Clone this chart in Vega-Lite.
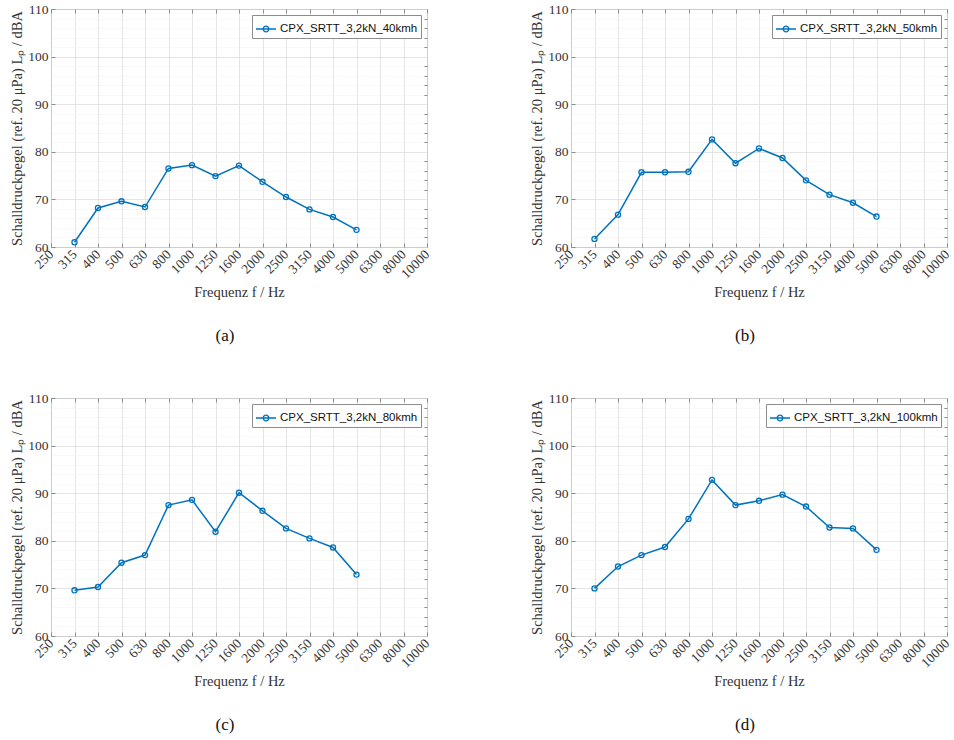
{
  "$schema": "https://vega.github.io/schema/vega-lite/v6.json",
  "background": "white",
  "padding": {"left": 9, "top": 1, "right": 4, "bottom": 4},
  "config": {
    "view": {"stroke": "#8c8c8c", "strokeWidth": 1},
    "font": "Liberation Serif",
    "axis": {
      "labelFont": "Liberation Serif",
      "labelFontSize": 13.5,
      "labelColor": "#333333",
      "titleFont": "Liberation Serif",
      "titleFontSize": 14.5,
      "titleFontWeight": "normal",
      "titleColor": "#333333",
      "domain": false,
      "tickColor": "#8c8c8c",
      "gridColor": "#dedede",
      "gridWidth": 0.8
    },
    "legend": {
      "orient": "top-right",
      "offset": 6,
      "padding": 3,
      "strokeColor": "#8c8c8c",
      "fillColor": "white",
      "labelFont": "Liberation Sans",
      "labelFontSize": 11.5,
      "labelColor": "#111111",
      "symbolType": "M-1,0L1,0M-0.28,0A0.28,0.28,0,1,1,0.28,0A0.28,0.28,0,1,1,-0.28,0",
      "symbolSize": 400,
      "symbolStrokeWidth": 1.3,
      "symbolFillColor": "transparent",
      "labelOffset": 3,
      "title": null
    },
    "title": {"font": "Liberation Serif", "fontSize": 17, "fontWeight": "normal", "color": "#111111"}
  },
  "data": {"values": [
    {"s": "CPX_SRTT_3,2kN_40kmh", "f": "315", "L": 61.0},
    {"s": "CPX_SRTT_3,2kN_40kmh", "f": "400", "L": 68.2},
    {"s": "CPX_SRTT_3,2kN_40kmh", "f": "500", "L": 69.6},
    {"s": "CPX_SRTT_3,2kN_40kmh", "f": "630", "L": 68.4},
    {"s": "CPX_SRTT_3,2kN_40kmh", "f": "800", "L": 76.5},
    {"s": "CPX_SRTT_3,2kN_40kmh", "f": "1000", "L": 77.2},
    {"s": "CPX_SRTT_3,2kN_40kmh", "f": "1250", "L": 74.9},
    {"s": "CPX_SRTT_3,2kN_40kmh", "f": "1600", "L": 77.1},
    {"s": "CPX_SRTT_3,2kN_40kmh", "f": "2000", "L": 73.7},
    {"s": "CPX_SRTT_3,2kN_40kmh", "f": "2500", "L": 70.5},
    {"s": "CPX_SRTT_3,2kN_40kmh", "f": "3150", "L": 67.9},
    {"s": "CPX_SRTT_3,2kN_40kmh", "f": "4000", "L": 66.3},
    {"s": "CPX_SRTT_3,2kN_40kmh", "f": "5000", "L": 63.6},
    {"s": "CPX_SRTT_3,2kN_50kmh", "f": "315", "L": 61.7},
    {"s": "CPX_SRTT_3,2kN_50kmh", "f": "400", "L": 66.8},
    {"s": "CPX_SRTT_3,2kN_50kmh", "f": "500", "L": 75.7},
    {"s": "CPX_SRTT_3,2kN_50kmh", "f": "630", "L": 75.7},
    {"s": "CPX_SRTT_3,2kN_50kmh", "f": "800", "L": 75.8},
    {"s": "CPX_SRTT_3,2kN_50kmh", "f": "1000", "L": 82.6},
    {"s": "CPX_SRTT_3,2kN_50kmh", "f": "1250", "L": 77.6},
    {"s": "CPX_SRTT_3,2kN_50kmh", "f": "1600", "L": 80.7},
    {"s": "CPX_SRTT_3,2kN_50kmh", "f": "2000", "L": 78.7},
    {"s": "CPX_SRTT_3,2kN_50kmh", "f": "2500", "L": 74.0},
    {"s": "CPX_SRTT_3,2kN_50kmh", "f": "3150", "L": 71.0},
    {"s": "CPX_SRTT_3,2kN_50kmh", "f": "4000", "L": 69.3},
    {"s": "CPX_SRTT_3,2kN_50kmh", "f": "5000", "L": 66.4},
    {"s": "CPX_SRTT_3,2kN_80kmh", "f": "315", "L": 69.6},
    {"s": "CPX_SRTT_3,2kN_80kmh", "f": "400", "L": 70.3},
    {"s": "CPX_SRTT_3,2kN_80kmh", "f": "500", "L": 75.4},
    {"s": "CPX_SRTT_3,2kN_80kmh", "f": "630", "L": 77.0},
    {"s": "CPX_SRTT_3,2kN_80kmh", "f": "800", "L": 87.5},
    {"s": "CPX_SRTT_3,2kN_80kmh", "f": "1000", "L": 88.6},
    {"s": "CPX_SRTT_3,2kN_80kmh", "f": "1250", "L": 81.9},
    {"s": "CPX_SRTT_3,2kN_80kmh", "f": "1600", "L": 90.1},
    {"s": "CPX_SRTT_3,2kN_80kmh", "f": "2000", "L": 86.3},
    {"s": "CPX_SRTT_3,2kN_80kmh", "f": "2500", "L": 82.6},
    {"s": "CPX_SRTT_3,2kN_80kmh", "f": "3150", "L": 80.5},
    {"s": "CPX_SRTT_3,2kN_80kmh", "f": "4000", "L": 78.6},
    {"s": "CPX_SRTT_3,2kN_80kmh", "f": "5000", "L": 72.9},
    {"s": "CPX_SRTT_3,2kN_100kmh", "f": "315", "L": 70.0},
    {"s": "CPX_SRTT_3,2kN_100kmh", "f": "400", "L": 74.6},
    {"s": "CPX_SRTT_3,2kN_100kmh", "f": "500", "L": 77.0},
    {"s": "CPX_SRTT_3,2kN_100kmh", "f": "630", "L": 78.7},
    {"s": "CPX_SRTT_3,2kN_100kmh", "f": "800", "L": 84.6},
    {"s": "CPX_SRTT_3,2kN_100kmh", "f": "1000", "L": 92.8},
    {"s": "CPX_SRTT_3,2kN_100kmh", "f": "1250", "L": 87.5},
    {"s": "CPX_SRTT_3,2kN_100kmh", "f": "1600", "L": 88.4},
    {"s": "CPX_SRTT_3,2kN_100kmh", "f": "2000", "L": 89.7},
    {"s": "CPX_SRTT_3,2kN_100kmh", "f": "2500", "L": 87.2},
    {"s": "CPX_SRTT_3,2kN_100kmh", "f": "3150", "L": 82.8},
    {"s": "CPX_SRTT_3,2kN_100kmh", "f": "4000", "L": 82.6},
    {"s": "CPX_SRTT_3,2kN_100kmh", "f": "5000", "L": 78.1}
  ]},
  "columns": 2,
  "spacing": {"row": 151, "column": 144},
  "bounds": "flush",
  "resolve": {"scale": {"color": "independent"}},
  "concat": [
    {
      "width": 376, "height": 238,
      "title": {"text": "(a)", "orient": "bottom", "offset": 29, "dx": -14},
      "transform": [{"filter": "datum.s === 'CPX_SRTT_3,2kN_40kmh'"}],
      "layer": [
        {"mark": {"type": "line", "strokeWidth": 1.5},
         "encoding": {
           "x": {"field": "f", "type": "ordinal", "sort": null, "scale": {"type": "point", "padding": 0, "domain": ["250","315","400","500","630","800","1000","1250","1600","2000","2500","3150","4000","5000","6300","8000","10000"]}, "axis": {"orient": "bottom", "title": "Frequenz f / Hz", "labelAngle": -45, "labelAlign": "right", "labelBaseline": "middle", "tickSize": -4, "labelPadding": 9, "titlePadding": 5, "grid": true}},
           "y": {"field": "L", "type": "quantitative", "scale": {"domain": [60, 110], "nice": false, "zero": false}, "axis": {"orient": "left", "values": [60,70,80,90,100,110], "title": "Schalldruckpegel (ref. 20 μPa) Lₚ / dBA", "tickSize": -4, "labelPadding": 7, "titlePadding": 3, "grid": true}},
           "color": {"field": "s", "type": "nominal", "scale": {"range": ["#0072BD"]}}
         }},
        {"mark": {"type": "point", "shape": "circle", "filled": false, "size": 26, "strokeWidth": 1.3, "opacity": 1},
         "encoding": {
           "x": {"field": "f", "type": "ordinal", "sort": null, "scale": {"type": "point", "padding": 0, "domain": ["250","315","400","500","630","800","1000","1250","1600","2000","2500","3150","4000","5000","6300","8000","10000"]}, "axis": {"orient": "top", "title": null, "labels": false, "tickSize": -4, "grid": false}},
           "y": {"field": "L", "type": "quantitative", "scale": {"domain": [60, 110], "nice": false, "zero": false}, "axis": {"orient": "right", "title": null, "labels": false, "values": [62,64,66,68,72,74,76,78,82,84,86,88,92,94,96,98,102,104,106,108], "tickSize": -3, "grid": true, "gridColor": "#e6e6e6", "gridDash": [1, 2]}},
           "color": {"field": "s", "type": "nominal", "scale": {"range": ["#0072BD"]}}
         }}
      ],
      "resolve": {"axis": {"x": "independent", "y": "independent"}}
    },
    {
      "width": 376, "height": 238,
      "title": {"text": "(b)", "orient": "bottom", "offset": 29, "dx": -14},
      "transform": [{"filter": "datum.s === 'CPX_SRTT_3,2kN_50kmh'"}],
      "layer": [
        {"mark": {"type": "line", "strokeWidth": 1.5},
         "encoding": {
           "x": {"field": "f", "type": "ordinal", "sort": null, "scale": {"type": "point", "padding": 0, "domain": ["250","315","400","500","630","800","1000","1250","1600","2000","2500","3150","4000","5000","6300","8000","10000"]}, "axis": {"orient": "bottom", "title": "Frequenz f / Hz", "labelAngle": -45, "labelAlign": "right", "labelBaseline": "middle", "tickSize": -4, "labelPadding": 9, "titlePadding": 5, "grid": true}},
           "y": {"field": "L", "type": "quantitative", "scale": {"domain": [60, 110], "nice": false, "zero": false}, "axis": {"orient": "left", "values": [60,70,80,90,100,110], "title": "Schalldruckpegel (ref. 20 μPa) Lₚ / dBA", "tickSize": -4, "labelPadding": 7, "titlePadding": 3, "grid": true}},
           "color": {"field": "s", "type": "nominal", "scale": {"range": ["#0072BD"]}}
         }},
        {"mark": {"type": "point", "shape": "circle", "filled": false, "size": 26, "strokeWidth": 1.3, "opacity": 1},
         "encoding": {
           "x": {"field": "f", "type": "ordinal", "sort": null, "scale": {"type": "point", "padding": 0, "domain": ["250","315","400","500","630","800","1000","1250","1600","2000","2500","3150","4000","5000","6300","8000","10000"]}, "axis": {"orient": "top", "title": null, "labels": false, "tickSize": -4, "grid": false}},
           "y": {"field": "L", "type": "quantitative", "scale": {"domain": [60, 110], "nice": false, "zero": false}, "axis": {"orient": "right", "title": null, "labels": false, "values": [62,64,66,68,72,74,76,78,82,84,86,88,92,94,96,98,102,104,106,108], "tickSize": -3, "grid": true, "gridColor": "#e6e6e6", "gridDash": [1, 2]}},
           "color": {"field": "s", "type": "nominal", "scale": {"range": ["#0072BD"]}}
         }}
      ],
      "resolve": {"axis": {"x": "independent", "y": "independent"}}
    },
    {
      "width": 376, "height": 238,
      "title": {"text": "(c)", "orient": "bottom", "offset": 29, "dx": -14},
      "transform": [{"filter": "datum.s === 'CPX_SRTT_3,2kN_80kmh'"}],
      "layer": [
        {"mark": {"type": "line", "strokeWidth": 1.5},
         "encoding": {
           "x": {"field": "f", "type": "ordinal", "sort": null, "scale": {"type": "point", "padding": 0, "domain": ["250","315","400","500","630","800","1000","1250","1600","2000","2500","3150","4000","5000","6300","8000","10000"]}, "axis": {"orient": "bottom", "title": "Frequenz f / Hz", "labelAngle": -45, "labelAlign": "right", "labelBaseline": "middle", "tickSize": -4, "labelPadding": 9, "titlePadding": 5, "grid": true}},
           "y": {"field": "L", "type": "quantitative", "scale": {"domain": [60, 110], "nice": false, "zero": false}, "axis": {"orient": "left", "values": [60,70,80,90,100,110], "title": "Schalldruckpegel (ref. 20 μPa) Lₚ / dBA", "tickSize": -4, "labelPadding": 7, "titlePadding": 3, "grid": true}},
           "color": {"field": "s", "type": "nominal", "scale": {"range": ["#0072BD"]}}
         }},
        {"mark": {"type": "point", "shape": "circle", "filled": false, "size": 26, "strokeWidth": 1.3, "opacity": 1},
         "encoding": {
           "x": {"field": "f", "type": "ordinal", "sort": null, "scale": {"type": "point", "padding": 0, "domain": ["250","315","400","500","630","800","1000","1250","1600","2000","2500","3150","4000","5000","6300","8000","10000"]}, "axis": {"orient": "top", "title": null, "labels": false, "tickSize": -4, "grid": false}},
           "y": {"field": "L", "type": "quantitative", "scale": {"domain": [60, 110], "nice": false, "zero": false}, "axis": {"orient": "right", "title": null, "labels": false, "values": [62,64,66,68,72,74,76,78,82,84,86,88,92,94,96,98,102,104,106,108], "tickSize": -3, "grid": true, "gridColor": "#e6e6e6", "gridDash": [1, 2]}},
           "color": {"field": "s", "type": "nominal", "scale": {"range": ["#0072BD"]}}
         }}
      ],
      "resolve": {"axis": {"x": "independent", "y": "independent"}}
    },
    {
      "width": 376, "height": 238,
      "title": {"text": "(d)", "orient": "bottom", "offset": 29, "dx": -14},
      "transform": [{"filter": "datum.s === 'CPX_SRTT_3,2kN_100kmh'"}],
      "layer": [
        {"mark": {"type": "line", "strokeWidth": 1.5},
         "encoding": {
           "x": {"field": "f", "type": "ordinal", "sort": null, "scale": {"type": "point", "padding": 0, "domain": ["250","315","400","500","630","800","1000","1250","1600","2000","2500","3150","4000","5000","6300","8000","10000"]}, "axis": {"orient": "bottom", "title": "Frequenz f / Hz", "labelAngle": -45, "labelAlign": "right", "labelBaseline": "middle", "tickSize": -4, "labelPadding": 9, "titlePadding": 5, "grid": true}},
           "y": {"field": "L", "type": "quantitative", "scale": {"domain": [60, 110], "nice": false, "zero": false}, "axis": {"orient": "left", "values": [60,70,80,90,100,110], "title": "Schalldruckpegel (ref. 20 μPa) Lₚ / dBA", "tickSize": -4, "labelPadding": 7, "titlePadding": 3, "grid": true}},
           "color": {"field": "s", "type": "nominal", "scale": {"range": ["#0072BD"]}}
         }},
        {"mark": {"type": "point", "shape": "circle", "filled": false, "size": 26, "strokeWidth": 1.3, "opacity": 1},
         "encoding": {
           "x": {"field": "f", "type": "ordinal", "sort": null, "scale": {"type": "point", "padding": 0, "domain": ["250","315","400","500","630","800","1000","1250","1600","2000","2500","3150","4000","5000","6300","8000","10000"]}, "axis": {"orient": "top", "title": null, "labels": false, "tickSize": -4, "grid": false}},
           "y": {"field": "L", "type": "quantitative", "scale": {"domain": [60, 110], "nice": false, "zero": false}, "axis": {"orient": "right", "title": null, "labels": false, "values": [62,64,66,68,72,74,76,78,82,84,86,88,92,94,96,98,102,104,106,108], "tickSize": -3, "grid": true, "gridColor": "#e6e6e6", "gridDash": [1, 2]}},
           "color": {"field": "s", "type": "nominal", "scale": {"range": ["#0072BD"]}}
         }}
      ],
      "resolve": {"axis": {"x": "independent", "y": "independent"}}
    }
  ]
}
